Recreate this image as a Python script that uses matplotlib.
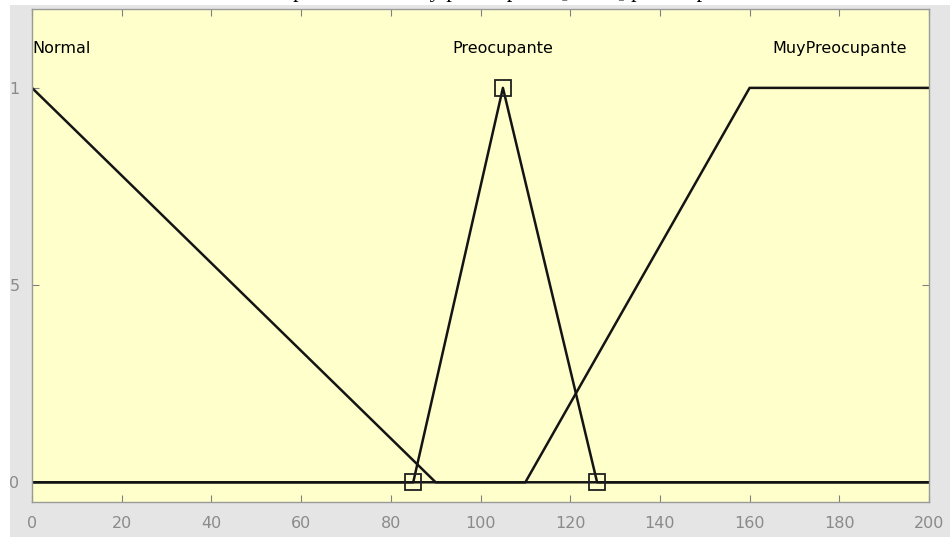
import numpy as np
import matplotlib.pyplot as plt
from matplotlib.patches import Rectangle

# membership functions (x breakpoints, membership values)
x_range = [0, 200]
mf_names = ['Normal', 'Preocupante', 'MuyPreocupante']
normal_x = [0, 90, 200]
normal_y = [1, 0, 0]
preoc_x = [0, 85, 105, 126, 200]
preoc_y = [0, 0, 1, 0, 0]
preoc_params = [85, 105, 126]
muy_x = [0, 110, 160, 200]
muy_y = [0, 0, 1, 1]
label_x = [0, 105, 180]

xticks = np.arange(0, 201, 20)
yticks = [0, 0.5, 1]
ytick_labels = ['0', '5', '1']

fig = plt.figure(figsize=(9.5, 5.37), dpi=100)
fig.patch.set_facecolor('white')
# gray MATLAB-like window background (screenshot is cropped on left/top)
fig.patches.append(Rectangle((10 / 950, 0), 1, 1 - 5 / 537, transform=fig.transFigure,
                             facecolor='#e5e5e5', edgecolor='none', zorder=-10))

# clipped title (only the bottoms of the glyphs are visible)
fig.text(0.5, 1 + 3 / 537, 'Función de pertenencia muy preocupante [0 200] para la presión',
         family='Liberation Serif', fontsize=16, ha='center', va='baseline')

ax = fig.add_axes([32 / 950, 1 - 502 / 537, (929 - 32) / 950, (502 - 9) / 537])
ax.set_facecolor('#ffffcc')

lc = '#141414'
ax.plot(normal_x, normal_y, color=lc, lw=1.8)
ax.plot(preoc_x, preoc_y, color=lc, lw=1.8)
ax.plot(muy_x, muy_y, color=lc, lw=1.8)
ax.plot(preoc_params, [0, 1, 0], linestyle='none', marker='s', markersize=11,
        markerfacecolor='none', markeredgecolor='#202020', markeredgewidth=1.3)

ax.text(label_x[0], 1.1, mf_names[0], ha='left', va='center', fontsize=11.5, color='black')
ax.text(label_x[1], 1.1, mf_names[1], ha='center', va='center', fontsize=11.5, color='black')
ax.text(label_x[2], 1.1, mf_names[2], ha='center', va='center', fontsize=11.5, color='black')

ax.set_xlim(x_range)
ax.set_ylim(-0.05, 1.2)
ax.set_xticks(xticks)
ax.set_yticks(yticks)
ax.set_yticklabels(ytick_labels)
ax.tick_params(direction='in', length=5, width=0.8, color='#808080',
               labelcolor='#8a8a8a', labelsize=11.5, top=True, right=True)
ax.tick_params(axis='x', pad=10)
ax.tick_params(axis='y', pad=9)
for s in ax.spines.values():
    s.set_color('#9a9a9a')
    s.set_linewidth(1.0)

fig.savefig('out.png', dpi=100)
